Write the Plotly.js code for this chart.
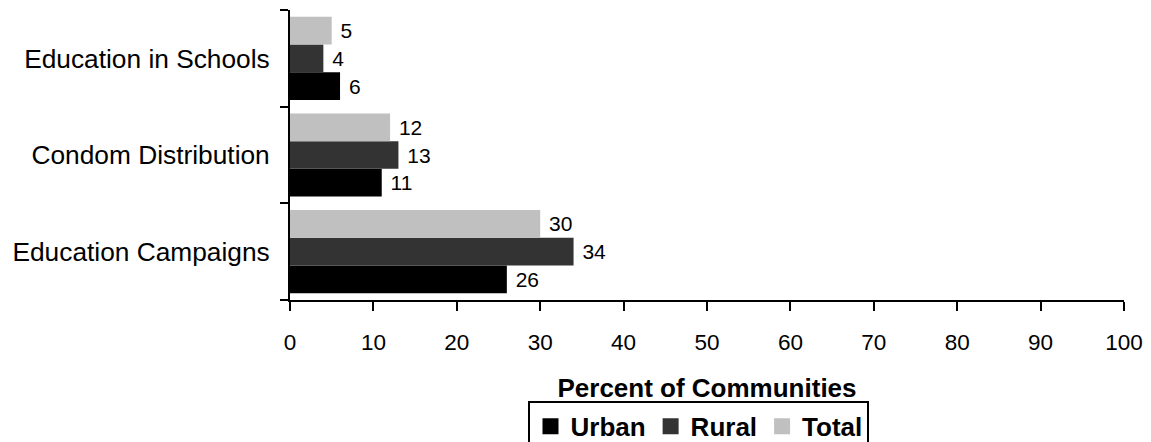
<!DOCTYPE html>
<html>
<head>
<meta charset="utf-8">
<script src="https://cdn.plot.ly/plotly-3.0.1.min.js"></script>
<style>
  html, body { margin: 0; padding: 0; background: #ffffff; overflow: hidden; }
  #wrap { width: 1151px; height: 442px; overflow: hidden; position: relative; }
  #chart { width: 1151px; height: 462px; }
</style>
</head>
<body>
<div id="wrap"><div id="chart"></div></div>
<script>
// Categories (bottom to top as drawn)
const categories = ["Education Campaigns", "Condom Distribution", "Education in Schools"];
// Series values (percent of communities)
const urbanValues = [26, 11, 6];
const ruralValues = [34, 13, 4];
const totalValues = [30, 12, 5];
const seriesNames = ["Urban", "Rural", "Total"];
const seriesColors = ["#000000", "#333333", "#c0c0c0"];
const xTickValues = [0, 10, 20, 30, 40, 50, 60, 70, 80, 90, 100];

const FONT = "Liberation Sans, Arial, Helvetica, sans-serif";
const seriesValues = [urbanValues, ruralValues, totalValues];

const traces = seriesValues.map((vals, i) => ({
  type: "bar",
  orientation: "h",
  name: seriesNames[i],
  y: categories,
  x: vals,
  marker: { color: seriesColors[i], line: { width: 0 } },
  text: vals.map(v => String(v)),
  texttemplate: "\u00a0%{text}",
  textposition: "outside",
  constraintext: "none",
  cliponaxis: false,
  textfont: { family: FONT, size: 21, color: "#000000" },
  showlegend: false,
  hoverinfo: "x+y+name"
}));

// legend-only entries (larger square swatches)
seriesNames.forEach((n, i) => {
  traces.push({
    type: "scatter",
    mode: "markers",
    name: n,
    x: [null],
    y: [null],
    marker: { symbol: "square", size: 16, color: seriesColors[i] },
    showlegend: true,
    hoverinfo: "skip"
  });
});

const layout = {
  width: 1151,
  height: 462,
  margin: { l: 290, r: 27, t: 10, b: 159, pad: 0 },
  paper_bgcolor: "#ffffff",
  plot_bgcolor: "#ffffff",
  font: { family: FONT, color: "#000000", size: 22 },
  barmode: "group",
  bargap: 0.14,
  bargroupgap: 0,
  showlegend: true,
  legend: {
    orientation: "h",
    x: 0.4904,
    xanchor: "center",
    y: -0.348,
    yanchor: "top",
    bordercolor: "#000000",
    borderwidth: 2,
    bgcolor: "#ffffff",
    font: { family: FONT, size: 26, color: "#000000", weight: "bold" },
    itemclick: false,
    itemdoubleclick: false,
    traceorder: "normal"
  },
  xaxis: {
    range: [0, 100],
    tickvals: xTickValues,
    ticktext: xTickValues.map(String),
    ticks: "outside",
    ticklen: 9,
    tickwidth: 2,
    tickcolor: "#000000",
    showline: true,
    linewidth: 2,
    linecolor: "#000000",
    showgrid: false,
    zeroline: false,
    ticklabelstandoff: 12,
    tickfont: { family: FONT, size: 22.5, color: "#000000" },
    title: {
      text: "Percent of Communities",
      font: { family: FONT, size: 26, color: "#000000", weight: "bold" },
      standoff: 25
    },
    automargin: false,
    fixedrange: true
  },
  yaxis: {
    type: "category",
    categoryorder: "array",
    categoryarray: categories,
    ticks: "outside",
    tickson: "boundaries",
    ticklen: 8,
    tickwidth: 2,
    tickcolor: "#000000",
    showline: true,
    linewidth: 2,
    linecolor: "#000000",
    showgrid: false,
    zeroline: false,
    ticklabelstandoff: 13,
    tickfont: { family: FONT, size: 26.3, color: "#000000" },
    automargin: false,
    fixedrange: true
  }
};

Plotly.newPlot("chart", traces, layout, { staticPlot: true, displayModeBar: false });
</script>
</body>
</html>
